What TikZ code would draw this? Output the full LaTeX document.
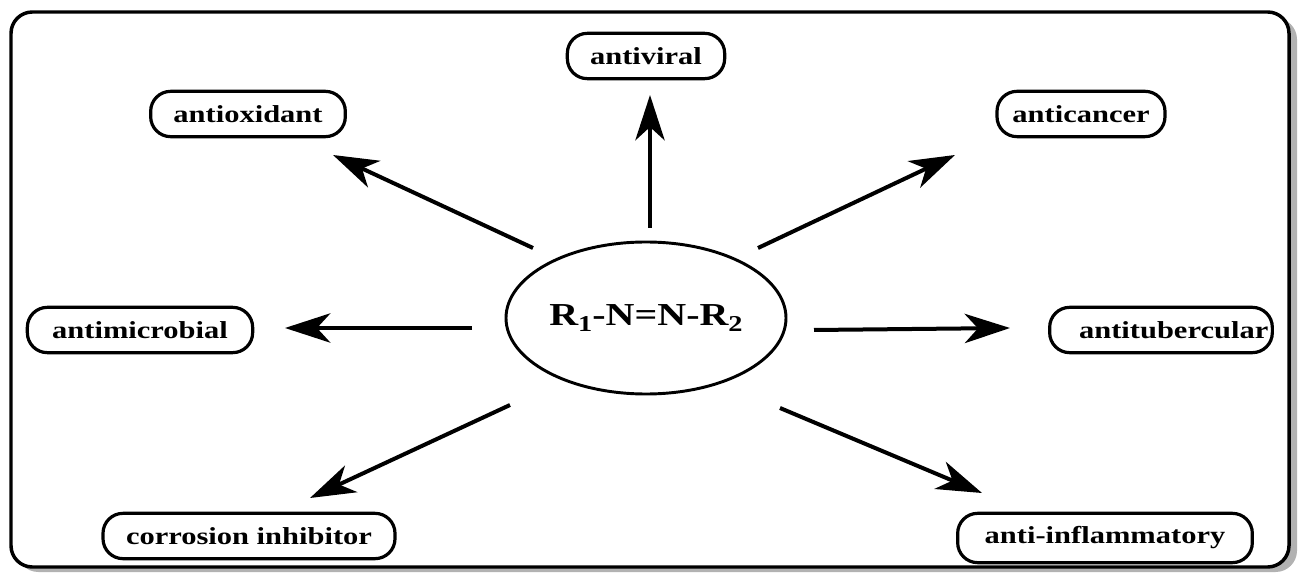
\documentclass[tikz,border=0pt]{standalone}
\usepackage{fontspec}
\newfontfamily\schrift[FakeStretch=1.25]{Liberation Serif}
\usetikzlibrary{arrows.meta}
\usetikzlibrary{shapes.geometric}
\newcommand{\idx}[1]{\raisebox{-0.35ex}{\fontsize{17}{17}\selectfont #1}}

\begin{document}
\begin{tikzpicture}[x=0.75pt,y=-0.75pt, % Pixelraster, y nach unten
    wirkung/.style={draw, line width=2.4pt, rounded corners=15pt, minimum height=34pt,
        inner sep=0pt, font=\schrift\bfseries\fontsize{18.3}{20}\selectfont},
    pfeil/.style={line width=3pt, -{Stealth[length=34pt,width=22pt,inset=10pt]}}]
    \useasboundingbox (0,0) rectangle (1299,573);
    % Rahmen mit Schatten
    \fill[black!30, rounded corners=16pt] (17,18) rectangle (1297,572); % Schatten
    \draw[fill=white, line width=2.6pt, rounded corners=16pt] (11,12) rectangle (1289,567);
    % Azoverbindung in der Mitte
    \node[draw, ellipse, line width=2.2pt, minimum width=210pt, minimum height=114pt, inner sep=0pt,
        font=\schrift\bfseries\fontsize{24}{26}\selectfont] (azo) at (646,318)
        {R\idx{1}-N=N-R\idx{2}};
    % Wirkungen
    \node[wirkung, minimum width=118pt] (viral) at (646,56) {antiviral};
    \node[wirkung, minimum width=146pt] (oxid) at (248,114) {antioxidant};
    \node[wirkung, minimum width=126pt] (krebs) at (1081,114) {anticancer};
    \node[wirkung, minimum width=169pt] (mikrob) at (140,330) {antimicrobial};
    \node[wirkung, minimum width=167pt] (tuber) at (1161,330) {\hspace*{19pt}antitubercular};
    \node[wirkung, minimum width=219pt] (korr) at (249,536) {corrosion inhibitor};
    \node[wirkung, minimum width=221pt, minimum height=37pt] (entz) at (1105,538) {anti-inflammatory};
    % Pfeilenden
    \coordinate (viral-a) at (650,228);   \coordinate (viral-e) at (650,95);
    \coordinate (oxid-a) at (533,248);    \coordinate (oxid-e) at (333,155);
    \coordinate (krebs-a) at (758,248);   \coordinate (krebs-e) at (955,155);
    \coordinate (mikrob-a) at (472,328);  \coordinate (mikrob-e) at (285,328);
    \coordinate (tuber-a) at (814,330);   \coordinate (tuber-e) at (1010,328);
    \coordinate (korr-a) at (510,405);    \coordinate (korr-e) at (310,498);
    \coordinate (entz-a) at (780,408);    \coordinate (entz-e) at (982,493);
    % Pfeile
    \foreach \p in {viral, oxid, krebs, mikrob, tuber, korr, entz} {
        \draw[pfeil] (\p-a) -- (\p-e);
    }
\end{tikzpicture}
\end{document}
